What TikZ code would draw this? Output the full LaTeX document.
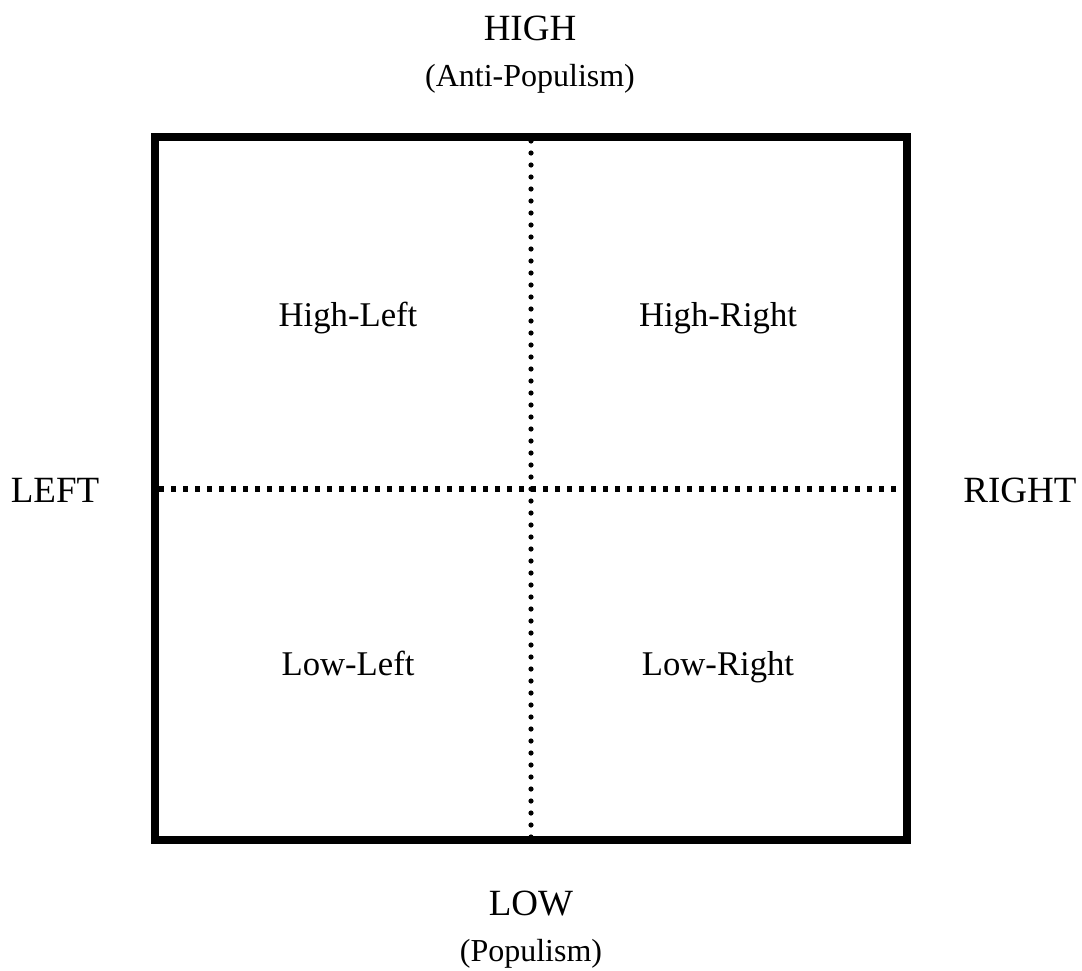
\documentclass[tikz,border=0pt]{standalone}
\usepackage{fontspec}
\setmainfont{Liberation Serif}
\begin{document}
\begin{tikzpicture}[x=0.75pt,y=-0.75pt,
  lbl/.style={anchor=base,inner sep=0pt,font=\fontsize{26}{31}\selectfont},
  axis/.style={anchor=base,inner sep=0pt,font=\fontsize{27.75}{33}\selectfont},
  sub/.style={anchor=base,inner sep=0pt,font=\fontsize{24}{29}\selectfont},
  frame/.style={line width=6pt},
  vdots/.style={line width=3.9pt,line cap=round,dash pattern=on 0pt off 9pt},
  hdots/.style={line width=3.9pt,dash pattern=on 3.9pt off 5.1pt}]
\useasboundingbox (0,0) rectangle (1082,971);
\coordinate (tl) at (155,137);
\coordinate (br) at (907,840);
\coordinate (vt) at (531,141);
\coordinate (vb) at (531,837);
\coordinate (hl) at (159,489);
\coordinate (hr) at (903,489);
\draw[vdots] (vt) -- (vb);
\draw[hdots] (hl) -- (hr);
\draw[frame] (tl) rectangle (br);
\node[axis] (high) at (530,40) {HIGH};
\node[sub] (anti) at (530,86) {(Anti-Populism)};
\node[axis] (left) at (55,502) {LEFT};
\node[axis] (right) at (1020,502) {RIGHT};
\node[lbl] (hlq) at (348,326) {High-Left};
\node[lbl] (hrq) at (718,326) {High-Right};
\node[lbl] (llq) at (348,675) {Low-Left};
\node[lbl] (lrq) at (718,675) {Low-Right};
\node[axis] (low) at (531,915) {LOW};
\node[sub] (pop) at (531,961) {(Populism)};
\end{tikzpicture}
\end{document}
